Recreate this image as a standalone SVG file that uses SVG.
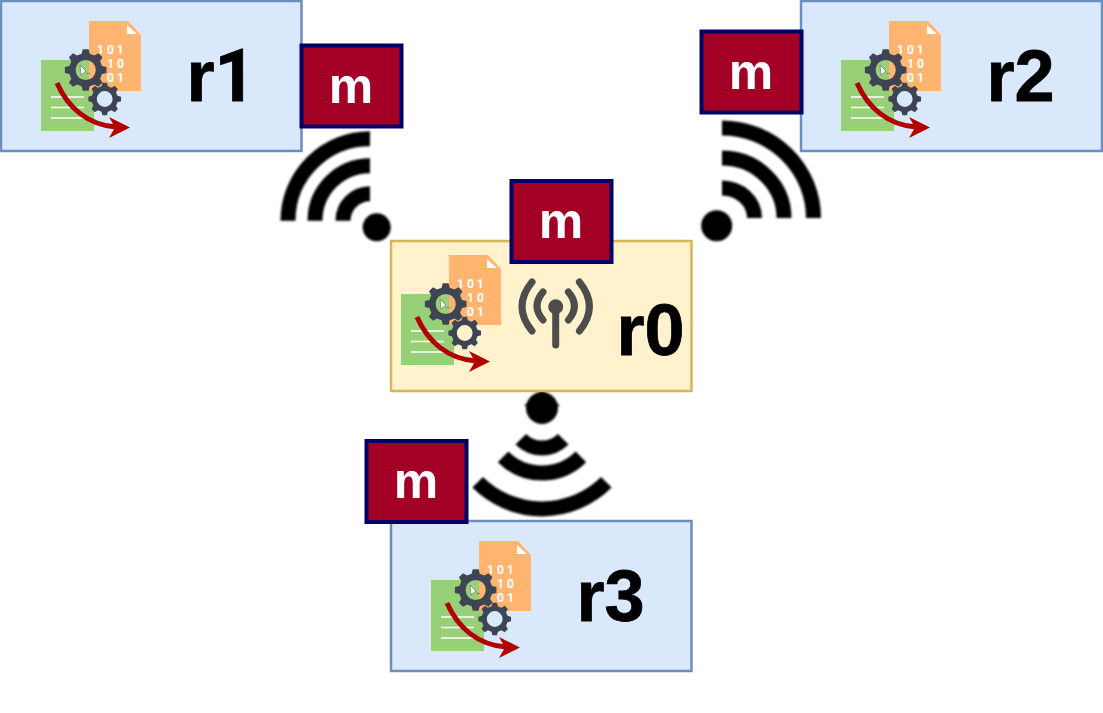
<svg xmlns="http://www.w3.org/2000/svg" xmlns:xlink="http://www.w3.org/1999/xlink" width="1103" height="713" viewBox="0 0 1103 713">
  <style>
    .replica { fill: #dae8fc; stroke: #6c8ebf; stroke-width: 2.5; }
    .root { fill: #fff2cc; stroke: #d6b656; stroke-width: 2.5; }
    .msg { fill: #a20025; stroke: #000066; stroke-width: 4; }
    .msg-label { font: bold 50px "Liberation Sans", Arial, sans-serif; fill: #ffffff; text-anchor: middle; }
    .name { font: bold 72px "Liberation Sans", Arial, sans-serif; fill: #000000; stroke: #000000; stroke-width: 0.8; }
    .one { font-family: Roboto, "Liberation Sans", sans-serif; }
    .bits { font: bold 12px Roboto, "Liberation Sans", sans-serif; fill: #ffffff; letter-spacing: 3px; }
    .wave { fill: none; stroke: #000000; stroke-width: 15; }
    .aerial { fill: none; stroke: #4d4d4d; stroke-width: 7; stroke-linecap: round; }
    .cog { fill: #3d4554; fill-rule: evenodd; }
  </style>
  <defs>
    <filter id="soft" x="-10%" y="-10%" width="120%" height="120%">
      <feGaussianBlur stdDeviation="1"/>
    </filter>
    <!-- Data sheets behind the binary digits -->
    <g id="sheets">
      <rect x="41" y="60" width="53" height="71" fill="#97d077"/>
      <path d="M89,21 H128 L141,35 V91 H89 Z" fill="#ffb570"/>
      <path d="M127,25 L137,34 H127 Z" fill="#ffffff"/>
      <path d="M51,97 H84 M51,107.5 H84 M51,118 H84" stroke="#ffffff" stroke-width="1.5" fill="none"/>
    </g>
    <!-- Eight-toothed cog outline on a radius of 100 units -->
    <path id="teeth" d="M-19.35,-77.6 L-13.9,-99 L13.9,-99 L19.35,-77.6 L41.2,-68.6 L60.2,-79.8 L79.8,-60.2 L68.6,-41.2 L77.6,-19.35 L99,-13.9 L99,13.9 L77.6,19.35 L68.6,41.2 L79.8,60.2 L60.2,79.8 L41.2,68.6 L19.35,77.6 L13.9,99 L-13.9,99 L-19.35,77.6 L-41.2,68.6 L-60.2,79.8 L-79.8,60.2 L-68.6,41.2 L-77.6,19.35 L-99,13.9 L-99,-13.9 L-77.6,-19.35 L-68.6,-41.2 L-79.8,-60.2 L-60.2,-79.8 L-41.2,-68.6 Z M48,0 A48,48 0 1 0 -48,0 A48,48 0 1 0 48,0 Z"/>
    <!-- Gears, prompt cursor and processing arrow on top of the digits -->
    <g id="process">
      <use href="#teeth" xlink:href="#teeth" class="cog" transform="translate(85.7,70) scale(0.21)"/>
      <use href="#teeth" xlink:href="#teeth" class="cog" transform="translate(104.7,99) scale(0.165)"/>
      <path d="M80,65 L86,71 L81,75 Z" fill="#ffffff" stroke="#555555" stroke-width="0.6"/>
      <path d="M86,73.5 H90" stroke="#8a8a8a" stroke-width="1.2"/>
      <path d="M57,83 C68,108 88,125 116,127" fill="none" stroke="#b20000" stroke-width="5"/>
      <path d="M130,127.5 L109,117 L115,127.5 L109,138 Z" fill="#b20000"/>
    </g>
  </defs>

  <!-- Wireless links -->
  <g id="connectors" filter="url(#soft)">
    <g id="link-r1">
      <circle cx="376.7" cy="227.3" r="14"/>
      <path class="wave" d="M343,220.7 A27,27 0 0 1 370,193.7"/>
      <path class="wave" d="M315,220.7 A55,55 0 0 1 370,165.7"/>
      <path class="wave" d="M288,220.7 A82,82 0 0 1 370,138.7"/>
    </g>
    <g id="link-r2">
      <circle cx="716.7" cy="225.7" r="15.5"/>
      <path class="wave" d="M722,188 A32.5,30 0 0 1 754.5,218"/>
      <path class="wave" d="M722,158 A62,60 0 0 1 784,218"/>
      <path class="wave" d="M722,128 A91.5,90 0 0 1 813.5,218"/>
    </g>
    <g id="link-r3">
      <circle cx="542" cy="408" r="16"/>
      <path d="M542,389 L524,406 H560 Z"/>
      <path class="wave" d="M520.8,439.2 A30,30 0 0 0 563.2,439.2"/>
      <path class="wave" d="M503.1,456.9 A55,55 0 0 0 580.9,456.9"/>
      <path class="wave" d="M477.7,482.3 A91,91 0 0 0 606.3,482.3"/>
    </g>
  </g>

  <g id="r1">
    <rect class="replica" x="1" y="1" width="300.5" height="150"/>
    <use href="#sheets" xlink:href="#sheets"/>
    <text class="bits" x="97" y="54">101</text>
    <text class="bits" x="107" y="68">10</text>
    <text class="bits" x="107" y="82">01</text>
    <use href="#process" xlink:href="#process"/>
    <text class="name" x="186.5" y="101">r<tspan class="one">1</tspan></text>
  </g>

  <g id="r2">
    <rect class="replica" x="801" y="1" width="301" height="150"/>
    <g transform="translate(800,0)">
      <use href="#sheets" xlink:href="#sheets"/>
      <text class="bits" x="97" y="54">101</text>
      <text class="bits" x="107" y="68">10</text>
      <text class="bits" x="107" y="82">01</text>
      <use href="#process" xlink:href="#process"/>
    </g>
    <text class="name" x="986.5" y="101">r2</text>
  </g>

  <g id="r0">
    <rect class="root" x="391" y="241" width="300.5" height="150"/>
    <g transform="translate(360,234)">
      <use href="#sheets" xlink:href="#sheets"/>
      <text class="bits" x="97" y="54">101</text>
      <text class="bits" x="107" y="68">10</text>
      <text class="bits" x="107" y="82">01</text>
      <use href="#process" xlink:href="#process"/>
    </g>
    <g id="antenna">
      <path class="aerial" d="M532,282 Q512,306.5 532,331 M543,292 Q531,306 543,320 M579.4,282 Q599.4,306.5 579.4,331 M568.4,292 Q580.4,306 568.4,320 M555.7,307 V345"/>
      <circle cx="555.7" cy="306.7" r="7.5" fill="#4d4d4d"/>
    </g>
    <text class="name" x="616.5" y="355">r0</text>
  </g>

  <g id="r3">
    <rect class="replica" x="391" y="521" width="300.5" height="150"/>
    <g transform="translate(390,520)">
      <use href="#sheets" xlink:href="#sheets"/>
      <text class="bits" x="97" y="54">101</text>
      <text class="bits" x="107" y="68">10</text>
      <text class="bits" x="107" y="82">01</text>
      <use href="#process" xlink:href="#process"/>
    </g>
    <text class="name" x="576.5" y="621">r3</text>
  </g>

  <!-- Message tokens -->
  <g id="m-r1">
    <rect class="msg" x="301.5" y="45.5" width="100" height="81"/>
    <text class="msg-label" x="351" y="102.5">m</text>
  </g>
  <g id="m-r2">
    <rect class="msg" x="701.5" y="31.5" width="100" height="81"/>
    <text class="msg-label" x="751" y="88.5">m</text>
  </g>
  <g id="m-r0">
    <rect class="msg" x="511.5" y="181" width="100" height="81"/>
    <text class="msg-label" x="561" y="238">m</text>
  </g>
  <g id="m-r3">
    <rect class="msg" x="366.5" y="441" width="100" height="81"/>
    <text class="msg-label" x="416" y="498">m</text>
  </g>
</svg>
